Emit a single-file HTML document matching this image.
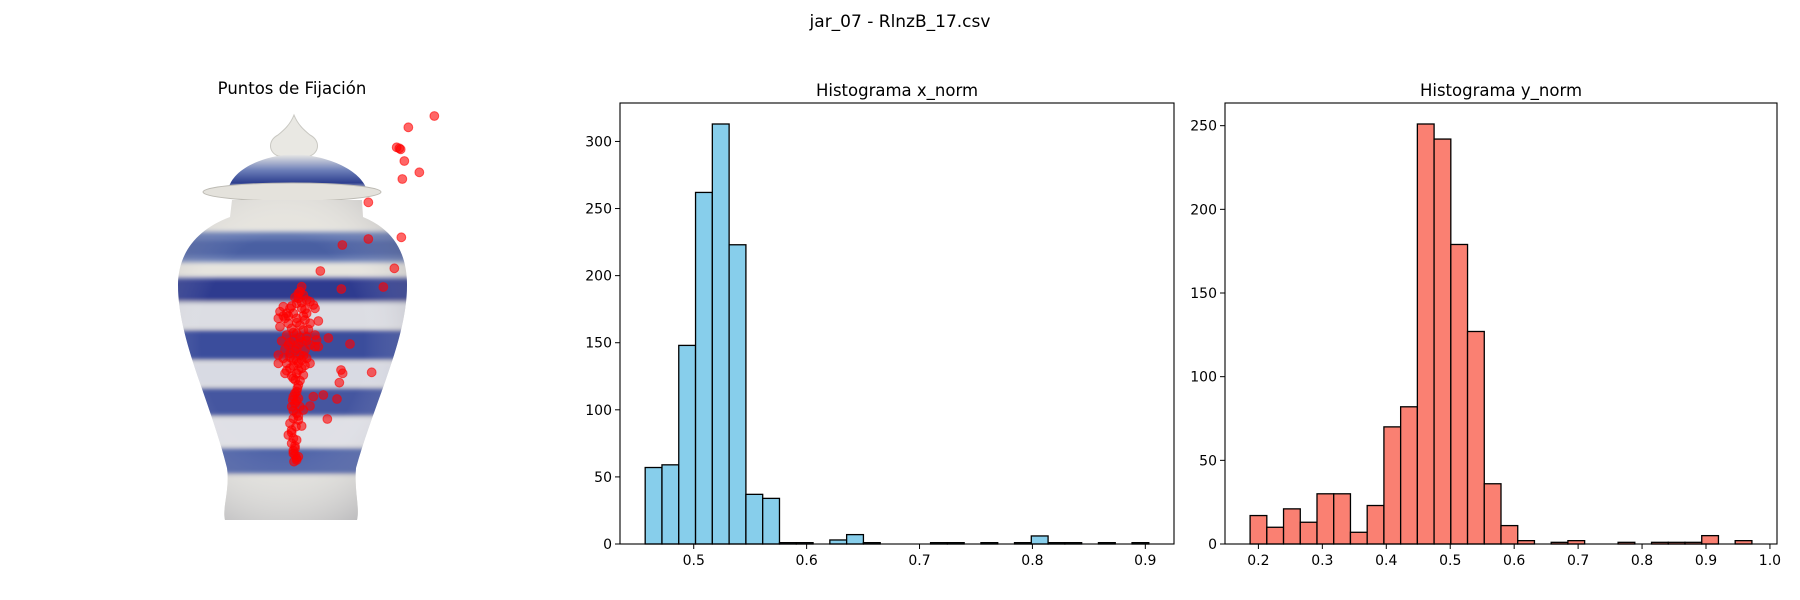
<!DOCTYPE html>
<html><head><meta charset="utf-8">
<style>
html,body{margin:0;padding:0;background:#fff;}
svg{display:block;font-family:"DejaVu Sans","Liberation Sans",sans-serif;}
</style></head>
<body>
<svg id="fig" width="1800" height="600" viewBox="0 0 1800 600">
<text x="900" y="27" text-anchor="middle" font-size="17" fill="#000">jar_07 - RlnzB_17.csv</text>
<text x="292" y="94" text-anchor="middle" font-size="16.5" fill="#000">Puntos de Fijación</text>
<text x="897" y="96" text-anchor="middle" font-size="16.5" fill="#000">Histograma x_norm</text>
<text x="1501" y="96" text-anchor="middle" font-size="16.5" fill="#000">Histograma y_norm</text>
<defs>
<clipPath id="bodyClip"><path d="M232,200 L362,200 L363,217 C395,230 407,255 407,285 C407,340 375,400 356,468 C354,490 360,508 357,520 L225,520 C222,508 230,490 227,468 C210,400 178,340 178,285 C178,255 195,230 230,217 Z"/></clipPath>
<radialGradient id="shade" cx="0.45" cy="0.45" r="0.65"><stop offset="0.5" stop-color="#fff" stop-opacity="0"/><stop offset="1" stop-color="#556" stop-opacity="0.35"/></radialGradient>
<linearGradient id="lidg" x1="0" y1="0" x2="0" y2="1"><stop offset="0" stop-color="#ecebe6"/><stop offset="0.45" stop-color="#6d7fb8"/><stop offset="0.8" stop-color="#2e3f8f"/><stop offset="1" stop-color="#e5e3dd"/></linearGradient>
<filter id="blur"><feGaussianBlur stdDeviation="2.5"/></filter>
</defs>
<g id="vase">
  <path d="M294,115 C298,125 304,130 310,135 C320,140 320,152 310,156 L278,156 C268,152 268,140 278,135 C284,130 290,125 294,115 Z" fill="#e9e8e3" stroke="#c9c8c2" stroke-width="1"/>
  <path d="M228,190 C232,170 260,156 294,154 C330,156 360,170 367,190 Z" fill="url(#lidg)"/>
  <ellipse cx="292" cy="192" rx="89" ry="9" fill="#e4e2dc" stroke="#bdbbb4" stroke-width="1"/>
  <g clip-path="url(#bodyClip)">
    <rect x="170" y="195" width="250" height="330" fill="#e6e4de"/>
    <g filter="url(#blur)">
    <rect x="170" y="232" width="250" height="30" fill="#6378b2"/>
    <rect x="170" y="240" width="250" height="16" fill="#4a5ea2"/>
    <rect x="170" y="278" width="250" height="24" fill="#2d3a8f"/>
    <rect x="170" y="302" width="250" height="26" fill="#dcdde3"/>
    <rect x="170" y="330" width="250" height="30" fill="#3a4d9c"/>
    <rect x="170" y="362" width="250" height="24" fill="#d8dae3"/>
    <rect x="170" y="388" width="250" height="28" fill="#4457a0"/>
    <rect x="170" y="418" width="250" height="28" fill="#dfe0e6"/>
    <rect x="170" y="448" width="250" height="26" fill="#5063a8"/>
    <rect x="170" y="476" width="250" height="50" fill="#e3e2de"/>
    </g>
    <rect x="170" y="195" width="250" height="330" fill="url(#shade)"/>
  </g>
</g>
<g id="points"></g>
<g id="h1"></g>
<g id="h2"></g>
</svg>
<script>
// Fixation points (pixel coords in image frame)
const fixX = [853,775,740,752,748,763,808,757,655,655,754,577,733,511,700,574,505,535,600,395,665,573,578,568,520,561,532,480,490,
455,450,460,445,470,440,480,490,400,420,455,390,410,430,470,495,385,405,440,465,415,450,480,390,425,460,440,410,470,495,500,430,455,415,480,440,465,495,420,450,385,400,430,470,410,445,385,480,420,455,405,440,460,430,445,440,430,445,435,450,425,460,440,430,445,420,425,415,430,425,435,430,445,440,435,505,
445,435,455,425,465,400,415,440,460,475,430,450,420,445,470,405,435,460,420,440,455,430,465,410,445,425,450,435,440,430,445,455,425,440,435,430,440,432,438,428,442,436];
const fixY = [168,202,262,268,265,303,337,357,427,537,532,555,625,633,681,687,783,834,852,843,937,930,940,968,1005,1017,1077,1038,1010,
680,695,705,715,720,730,725,735,740,745,745,755,760,760,760,745,775,775,775,780,790,795,790,800,805,810,820,825,830,825,840,840,845,855,855,865,870,860,880,885,885,895,900,895,910,910,910,910,925,925,940,940,945,955,975,995,1010,1015,1030,1040,1040,1050,1060,1075,1080,1090,1110,1125,1135,1150,1165,1180,1190,1200,1185,860,
700,712,728,738,748,768,768,788,768,808,818,832,848,852,842,868,872,888,892,902,900,918,916,932,930,948,962,1000,1022,1052,1068,1098,1118,1140,1158,1172,1195,1205,1100,1020,985,960];

// Histogram x_norm
const xEdgesStart = 0.457, xBinWidth = 0.01487;
const xCounts = [57,59,148,262,313,223,37,34,1,1,0,3,7,1,0,0,0,1,1,0,1,0,1,6,1,1,0,1,0,1];
const xTicksX = [0.5,0.6,0.7,0.8,0.9];
const xTickLabelsX = ["0.5","0.6","0.7","0.8","0.9"];
const yTicksX = [0,50,100,150,200,250,300];

// Histogram y_norm
const yEdgesStart = 0.187, yBinWidth = 0.02616;
const yCounts = [17,10,21,13,30,30,7,23,70,82,251,242,179,127,36,11,2,0,1,2,0,0,1,0,1,1,1,5,0,2];
const xTicksY = [0.2,0.3,0.4,0.5,0.6,0.7,0.8,0.9,1.0];
const xTickLabelsY = ["0.2","0.3","0.4","0.5","0.6","0.7","0.8","0.9","1.0"];
const yTicksY = [0,50,100,150,200,250];

const NS = "http://www.w3.org/2000/svg";
function mk(tag, attrs, parent){const e=document.createElementNS(NS,tag);for(const k in attrs)e.setAttribute(k,attrs[k]);parent.appendChild(e);return e;}

const pg = document.getElementById('points');
for(let i=0;i<fixX.length;i++){
  const c = mk('circle',{cx:150+fixX[i]/3, cy:60+fixY[i]/3, r:4.4, fill:'rgba(255,0,0,0.6)', stroke:'rgba(255,0,0,0.6)','stroke-width':1}, pg);
  
  
}

function hist(gid, L, R, T, B, start, bw, counts, xt, xl, yt, color){
  const g = document.getElementById(gid);
  const n = counts.length;
  const lo = start, hi = start + n*bw, pad = (hi-lo)*0.05;
  const xmin = lo-pad, xmax = hi+pad;
  const ymax = Math.max(...counts)*1.05;
  const sx = v => L + (v-xmin)/(xmax-xmin)*(R-L);
  const sy = v => B - v/ymax*(B-T);
  counts.forEach((c,i)=>{
    const x0=sx(start+i*bw), x1=sx(start+(i+1)*bw);
    const r = mk('rect',{x:x0,y:sy(c),width:x1-x0,height:B-sy(c),fill:color,stroke:'#000','stroke-width':1.3}, g);
    
    
  });
  const fr = mk('rect',{x:L,y:T,width:R-L,height:B-T,fill:'none',stroke:'#000','stroke-width':1.1}, g);
  
  
  xt.forEach((v,i)=>{
    const x=sx(v);
    mk('line',{x1:x,x2:x,y1:B,y2:B+5,stroke:'#000','stroke-width':1}, g);
    const t = mk('text',{x:x,y:B+21,'text-anchor':'middle','font-size':14,fill:'#000'}, g);
    t.textContent = xl[i];
    
    
  });
  yt.forEach(v=>{
    const y=sy(v);
    mk('line',{x1:L-5,x2:L,y1:y,y2:y,stroke:'#000','stroke-width':1}, g);
    const t = mk('text',{x:L-8,y:y+5,'text-anchor':'end','font-size':14,fill:'#000'}, g);
    t.textContent = String(v);
    
    
  });
}
hist('h1', 620, 1174, 103, 544, xEdgesStart, xBinWidth, xCounts, xTicksX, xTickLabelsX, yTicksX, '#87ceeb');
hist('h2', 1225, 1777, 103, 544, yEdgesStart, yBinWidth, yCounts, xTicksY, xTickLabelsY, yTicksY, '#fa8072');
</script>
</body></html>
